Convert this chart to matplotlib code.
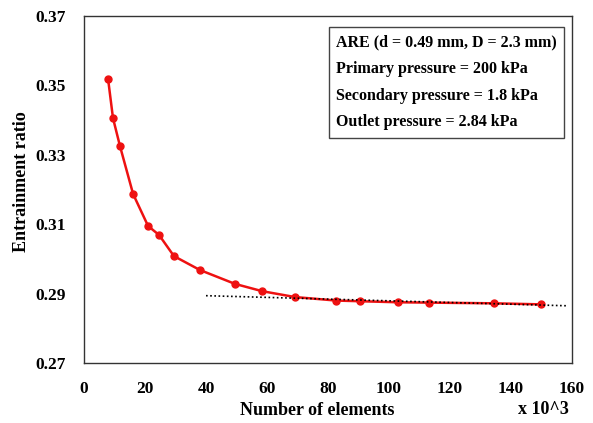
import matplotlib.pyplot as plt

# data (x in thousands of elements)
elements = [7.9, 9.5, 11.8, 16.1, 21.0, 24.6, 29.5, 38.0, 49.5, 58.4,
            69.2, 82.6, 90.5, 103.1, 113.1, 134.5, 149.7]
ratio = [0.3518, 0.3406, 0.3325, 0.3187, 0.3095, 0.3069, 0.3008, 0.2968,
         0.2928, 0.2907, 0.2890, 0.2880, 0.2878, 0.2875, 0.2874, 0.2872, 0.2869]

trend_x = [40, 158]
trend_y = [0.2894, 0.2865]

info_lines = ["ARE (d = 0.49 mm, D = 2.3 mm)",
              "Primary pressure = 200 kPa",
              "Secondary pressure = 1.8 kPa",
              "Outlet pressure = 2.84 kPa"]

plt.rcParams["font.family"] = ["Liberation Serif", "DejaVu Serif"]
plt.rcParams["font.weight"] = "bold"

fig = plt.figure(figsize=(5.93, 4.23), dpi=100)
ax = fig.add_axes([84 / 593, 1 - 363 / 423, (572 - 84) / 593, (363 - 16) / 423])

ax.plot(elements, ratio, color="#ee1111", lw=1.8, marker="o", ms=5, zorder=3)
ax.plot(trend_x, trend_y, color="black", lw=1.2, ls=(0, (1, 1.5)), zorder=4)

ax.set_xlim(0, 160)
ax.set_ylim(0.27, 0.37)
ax.set_xticks(range(0, 161, 20))
ax.set_yticks([0.27, 0.29, 0.31, 0.33, 0.35, 0.37])
ax.set_yticklabels(["0.27", "0.29", "0.31", "0.33", "0.35", "0.37"])
ax.tick_params(axis="x", length=0, labelsize=12.5, pad=13)
ax.tick_params(axis="y", length=0, labelsize=12.5, pad=13)
for lab in ax.get_xticklabels() + ax.get_yticklabels():
    lab.set_fontweight("bold")
for sp in ax.spines.values():
    sp.set_linewidth(1.0)
    sp.set_color("#333333")

fig.text(317 / 593, 1 - 410 / 423, "Number of elements", fontsize=13,
         fontweight="bold", ha="center", va="center")
fig.text(22 / 593, 1 - 182 / 423, "Entrainment ratio", fontsize=13,
         fontweight="bold", ha="center", va="center", rotation=90)
fig.text(543 / 593, 1 - 409 / 423, "x 10^3", fontsize=13, fontweight="bold",
         ha="center", va="center")

ax.text(0.516, 0.948, "\n".join(info_lines), transform=ax.transAxes,
        fontsize=11.5, fontweight="bold", va="top", ha="left", linespacing=1.9,
        bbox=dict(boxstyle="square,pad=0.45", fc="white", ec="#444444", lw=1.0))

fig.savefig("out.png", dpi=100)
